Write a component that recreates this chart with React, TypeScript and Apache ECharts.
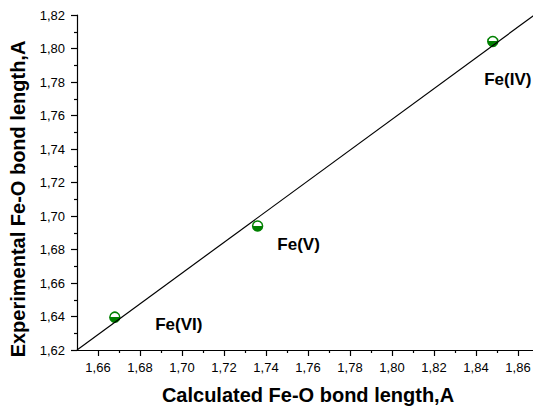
import React, { useEffect, useRef } from "react";
import * as echarts from "echarts";

// ---- data ----
const names = ["Fe(VI)", "Fe(V)", "Fe(IV)"];
const calculated = [1.668, 1.736, 1.848];
const experimental = [1.6396, 1.694, 1.8042];
const fitX = [1.65, 1.87];
const fitY = [1.62, 1.822];
const xMajorTicks = [1.66, 1.68, 1.7, 1.72, 1.74, 1.76, 1.78, 1.8, 1.82, 1.84, 1.86];
const xMinorTicks = [1.67, 1.69, 1.71, 1.73, 1.75, 1.77, 1.79, 1.81, 1.83, 1.85, 1.87];
const xRange = [1.65, 1.87];
const yRange = [1.62, 1.82];
const yStep = 0.02;
const xTitle = "Calculated Fe-O bond length,A";
const yTitle = "Experimental Fe-O bond length,A";

// label offsets (pixels, relative to marker centre)
const labelOffsets: [number, number][] = [
  [64, 7],
  [41, 18],
  [15, 38],
];

const FONT = 'Arial, "Liberation Sans", sans-serif';
const fmt = (v: number) => v.toFixed(2).replace(".", ",");

export default function App() {
  const ref = useRef<HTMLDivElement>(null);
  useEffect(() => {
    if (!ref.current) return;
    const chart = echarts.init(ref.current, undefined, { renderer: "svg" });
    const green = "#008000";
    const halfFill = {
      type: "linear",
      x: 0,
      y: 0,
      x2: 0,
      y2: 1,
      colorStops: [
        { offset: 0, color: "#ffffff" },
        { offset: 0.5, color: "#ffffff" },
        { offset: 0.5, color: green },
        { offset: 1, color: green },
      ],
    };
    chart.setOption({
      animation: false,
      backgroundColor: "#ffffff",
      grid: { left: 77, right: 6, top: 15, bottom: 56, containLabel: false },
      xAxis: [
        {
          type: "value",
          min: xRange[0],
          max: xRange[1],
          position: "bottom",
          name: xTitle,
          nameLocation: "middle",
          nameGap: 35,
          nameTextStyle: { fontFamily: FONT, fontSize: 20, fontWeight: "bold", color: "#000" },
          axisLine: { show: true, lineStyle: { color: "#000", width: 1.2 } },
          axisTick: { show: true, length: 6, customValues: xMajorTicks, lineStyle: { color: "#000", width: 1.2 } },
          axisLabel: {
            show: true,
            customValues: xMajorTicks,
            margin: 11,
            formatter: (v: number) => fmt(v),
            fontFamily: FONT,
            fontSize: 13,
            color: "#000",
          },
          splitLine: { show: false },
        },
        {
          type: "value",
          min: xRange[0],
          max: xRange[1],
          position: "bottom",
          axisLine: { show: false },
          axisTick: { show: true, length: 3, customValues: xMinorTicks, lineStyle: { color: "#000", width: 1.2 } },
          axisLabel: { show: false },
          splitLine: { show: false },
        },
      ],
      yAxis: {
        type: "value",
        min: yRange[0],
        max: yRange[1],
        interval: yStep,
        axisLine: { show: true, lineStyle: { color: "#000", width: 1.2 } },
        axisTick: { show: true, length: 6, lineStyle: { color: "#000", width: 1.2 } },
        minorTick: { show: true, splitNumber: 2, length: 3, lineStyle: { color: "#000", width: 1.2 } },
        axisLabel: {
          margin: 12,
          formatter: (v: number) => fmt(v),
          fontFamily: FONT,
          fontSize: 13,
          color: "#000",
        },
        splitLine: { show: false },
      },
      graphic: [
        {
          type: "text",
          x: 18,
          y: 199,
          rotation: Math.PI / 2,
          style: {
            text: yTitle,
            fontFamily: FONT,
            fontSize: 20,
            fontWeight: "bold",
            fill: "#000",
            align: "center",
            verticalAlign: "middle",
          },
        },
      ],
      series: [
        {
          type: "line",
          xAxisIndex: 0,
          data: fitX.map((x, i) => [x, fitY[i]]),
          showSymbol: false,
          symbol: "none",
          clip: true,
          lineStyle: { color: "#000", width: 1.2 },
          silent: true,
        },
        {
          type: "scatter",
          xAxisIndex: 0,
          symbol: "circle",
          symbolSize: 10,
          data: calculated.map((x, i) => ({
            name: names[i],
            value: [x, experimental[i]],
            label: { offset: labelOffsets[i] },
          })),
          itemStyle: { color: halfFill, borderColor: green, borderWidth: 1.5, opacity: 1 },
          label: {
            show: true,
            position: "inside",
            formatter: (p: any) => p.name,
            fontFamily: FONT,
            fontSize: 17,
            fontWeight: "bold",
            color: "#000",
          },
        },
      ],
    });
    return () => chart.dispose();
  }, []);
  return (
    <div
      style={{ position: "fixed", left: 0, top: 0, width: 533, height: 410, overflow: "hidden", background: "#fff" }}
    >
      <div ref={ref} style={{ position: "absolute", left: 0, top: 0, width: 545, height: 410 }} />
    </div>
  );
}
